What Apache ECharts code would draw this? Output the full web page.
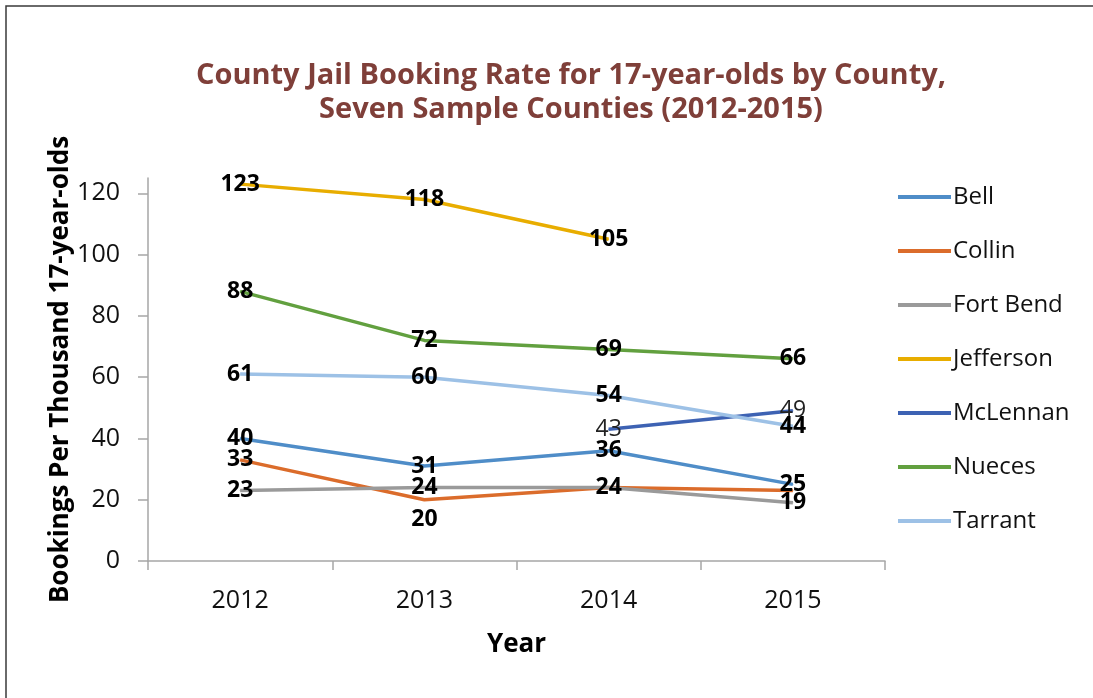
<!DOCTYPE html>
<html>
<head>
<meta charset="utf-8">
<script src="https://cdn.jsdelivr.net/npm/echarts@6/dist/echarts.min.js"></script>
<style>
  html, body { margin: 0; padding: 0; background: #fff; }
  #chart { width: 1093px; height: 698px; }
</style>
</head>
<body>
<div id="chart"></div>
<script>
// Booking rate per thousand 17-year-olds, by county and year
const years = ['2012', '2013', '2014', '2015'];
const yTicks = [0, 20, 40, 60, 80, 100, 120];

const bell      = [40, 31, 36, 25];
const collin    = [33, 20, 24, 23];
const fortBend  = [23, 24, 24, 19];
const jefferson = [123, 118, 105, null];
const mcLennan  = [null, null, 43, 49];
const nueces    = [88, 72, 69, 66];
const tarrant   = [61, 60, 54, 44];

const FONT = "'Open Sans', 'DejaVu Sans', sans-serif";

// Label tweaks: Collin's 2014/2015 labels coincide with neighbours, 2013 sits under the line
const labelTweaks = {
  Collin: {
    1: { offset: [0, 20] },
    2: { show: false },
    3: { show: false }
  }
};

const seriesDefs = [
  { name: 'Bell',      data: bell,      color: '#4f8dc8' },
  { name: 'Collin',    data: collin,    color: '#db6c2b' },
  { name: 'Fort Bend', data: fortBend,  color: '#9a9a9a' },
  { name: 'Jefferson', data: jefferson, color: '#e8ad00' },
  { name: 'McLennan',  data: mcLennan,  color: '#3d62b3' },
  { name: 'Nueces',    data: nueces,    color: '#62a03f' },
  { name: 'Tarrant',   data: tarrant,   color: '#9dc1e6' }
];

const series = seriesDefs.map(def => {
  const tweaks = labelTweaks[def.name] || {};
  const bold = def.name !== 'McLennan';
  return {
    name: def.name,
    type: 'line',
    data: def.data.map((v, i) => tweaks[i] ? { value: v, label: tweaks[i] } : v),
    symbol: 'circle',
    symbolSize: 1,
    showSymbol: true,
    connectNulls: false,
    lineStyle: { color: def.color, width: 3.5 },
    itemStyle: { color: def.color },
    emphasis: { disabled: true },
    label: {
      show: true,
      position: 'inside',
      fontFamily: FONT,
      fontSize: 23,
      fontWeight: bold ? 'bold' : 'normal',
      color: bold ? '#000' : '#222'
    }
  };
});

const chart = echarts.init(document.getElementById('chart'), null, { renderer: 'canvas' });
chart.setOption({
  animation: false,
  backgroundColor: '#fff',
  title: {
    text: 'County Jail Booking Rate for 17-year-olds by County,\nSeven Sample Counties (2012-2015)',
    left: 566,
    top: 54,
    textAlign: 'center',
    textStyle: {
      fontFamily: FONT,
      fontSize: 29,
      fontWeight: 'bold',
      color: '#7f3f39',
      lineHeight: 34
    }
  },
  legend: {
    orient: 'vertical',
    left: 893,
    top: 178,
    icon: 'rect',
    itemWidth: 53,
    itemHeight: 4,
    itemGap: 26,
    selectedMode: false,
    textStyle: { fontFamily: FONT, fontSize: 24, color: '#111', lineHeight: 28, padding: [0, 0, 0, -3] },
    data: seriesDefs.map(d => d.name)
  },
  grid: { left: 148, right: 208, top: 178, bottom: 137, containLabel: false },
  xAxis: {
    type: 'category',
    data: years,
    boundaryGap: true,
    name: 'Year',
    nameLocation: 'middle',
    nameGap: 71,
    nameMoveOverlap: false,
    nameTextStyle: { fontFamily: FONT, fontSize: 26, fontWeight: 'bold', color: '#000' },
    axisLine: { lineStyle: { color: '#a6a6a6', width: 1.5 } },
    axisTick: { show: true, length: 9, alignWithLabel: false, lineStyle: { color: '#a6a6a6', width: 1.5 } },
    axisLabel: { fontFamily: FONT, fontSize: 25, color: '#111', margin: 27 }
  },
  yAxis: {
    type: 'value',
    min: 0,
    max: 125,
    interval: 20,
    name: 'Bookings Per Thousand 17-year-olds',
    nameLocation: 'middle',
    nameGap: 74,
    nameMoveOverlap: false,
    nameRotate: 90,
    nameTextStyle: { fontFamily: FONT, fontSize: 26, fontWeight: 'bold', color: '#000' },
    splitLine: { show: false },
    axisLine: { show: true, lineStyle: { color: '#a6a6a6', width: 1.5 } },
    axisTick: { show: true, length: 10, customValues: yTicks, lineStyle: { color: '#a6a6a6', width: 1.5 } },
    axisLabel: { fontFamily: FONT, fontSize: 25, color: '#111', margin: 28, customValues: yTicks }
  },
  graphic: [{
    type: 'rect',
    shape: { x: 6, y: 6, width: 1200, height: 800 },
    style: { fill: null, stroke: '#3a3a3a', lineWidth: 1.5 },
    silent: true,
    z: 100
  }],
  series: series
});
</script>
</body>
</html>
